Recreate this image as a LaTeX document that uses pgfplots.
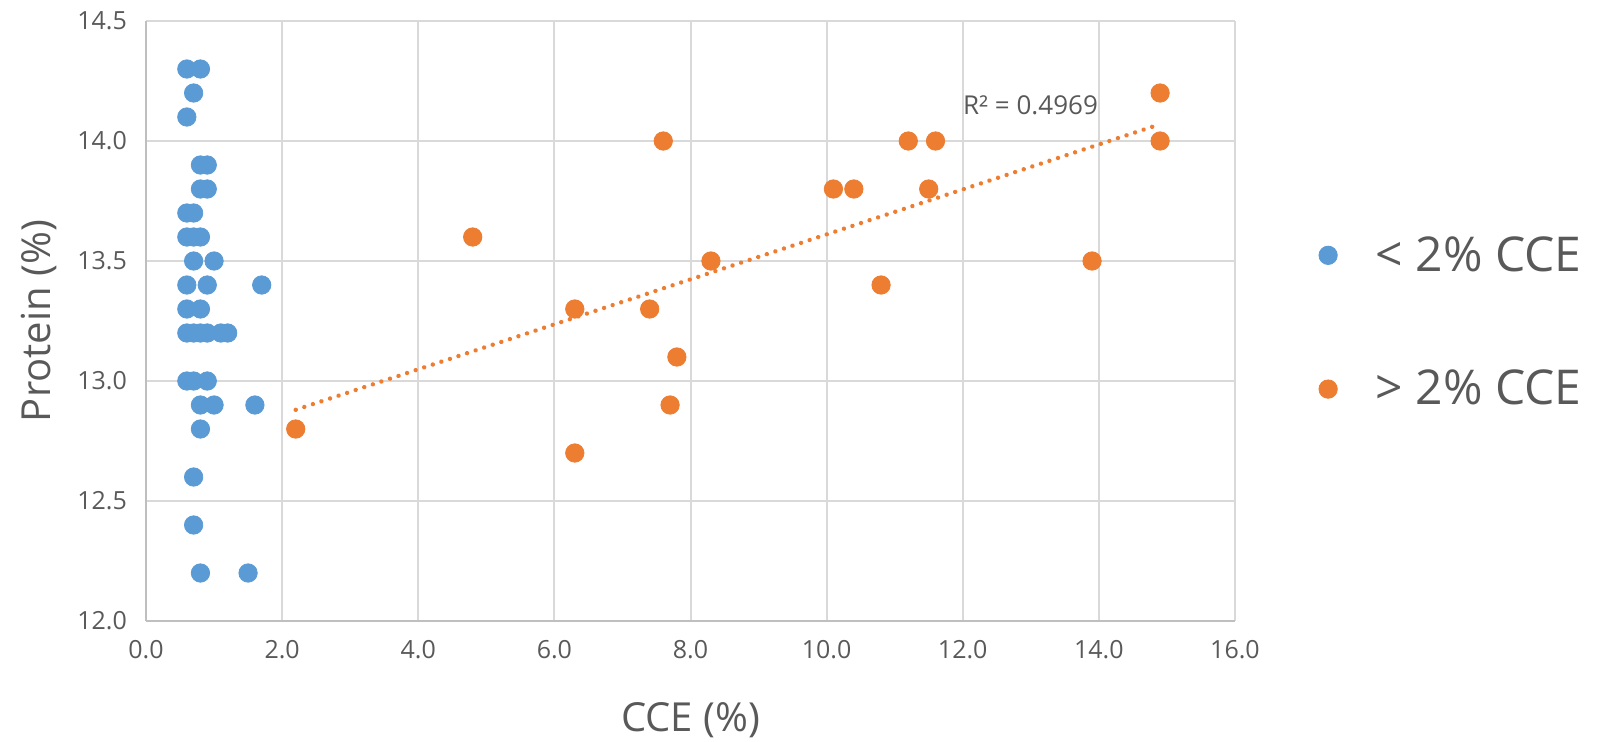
\documentclass[border=0pt]{standalone}
\usepackage{pgfplots}
\pgfplotsset{compat=1.18}
\usepackage{fontspec}
\setmainfont{Open Sans}
\definecolor{txt}{HTML}{595959}
\definecolor{gridc}{HTML}{D9D9D9}
\definecolor{axc}{HTML}{BFBFBF}
\definecolor{cblue}{HTML}{5B9BD5}
\definecolor{corange}{HTML}{ED7D31}
\pgfplotsset{mylegimg/.style={legend image code/.code={\path[draw=none,fill=none] (0,0) -- (1.22cm,0); \draw[##1, only marks] plot coordinates {(0.45cm,0cm)};}}}
\begin{document}
\begin{tikzpicture}
\path[use as bounding box] (-73pt,-60pt) rectangle (734pt,310.5pt);
\begin{axis}[
  scale only axis, width=544.5pt, height=300pt,
  xmin=0, xmax=16, ymin=12, ymax=14.5,
  xtick={0,2,...,16}, ytick={12,12.5,...,14.5},
  axis lines=left, axis line style={-, draw=axc, line width=1pt},
  grid=major, grid style={draw=gridc, line width=1pt},
  major tick length=0pt,
  tick label style={font=\fontsize{12.5}{14}\selectfont, text=txt},
  /pgf/number format/.cd, fixed, fixed zerofill, precision=1, assume math mode=true,
  /pgfplots/.cd,
  xticklabel style={yshift=-6pt},
  yticklabel style={xshift=-6pt},
  xlabel={CCE (\%)}, ylabel={Protein (\%)},
  label style={font=\fontsize{20}{24}\selectfont, text=txt},
  xlabel style={at={(axis description cs:0.5,-0.165)}, anchor=center},
  ylabel style={at={(axis description cs:-0.098,0.5)}, anchor=center, rotate=0},
  legend style={at={(1.062,0.498)}, anchor=west, draw=none, fill=none, inner sep=0pt, outer sep=0pt,
    font=\fontsize{24}{28}\selectfont, text=txt, row sep=44pt},
  legend cell align=left,
  clip=false,
]
\addplot[only marks, mark=*, mark size=4.6pt, draw=cblue, fill=cblue, mylegimg] coordinates {
(0.6,14.3)(0.8,14.3)(0.7,14.2)(0.6,14.1)
(0.8,13.9)(0.9,13.9)(0.8,13.8)(0.9,13.8)
(0.6,13.7)(0.7,13.7)(0.6,13.6)(0.7,13.6)(0.8,13.6)
(0.7,13.5)(1.0,13.5)(0.6,13.4)(0.9,13.4)(1.7,13.4)
(0.6,13.3)(0.8,13.3)
(0.6,13.2)(0.7,13.2)(0.8,13.2)(0.9,13.2)(1.1,13.2)(1.2,13.2)
(0.6,13.0)(0.7,13.0)(0.9,13.0)
(0.8,12.9)(1.0,12.9)(1.6,12.9)
(0.8,12.8)(0.7,12.6)(0.7,12.4)(0.8,12.2)(1.5,12.2)
};
\addlegendentry{< 2\% CCE}
\addplot[only marks, mark=*, mark size=4.6pt, draw=corange, fill=corange, mylegimg] coordinates {
(2.2,12.8)(4.8,13.6)(6.3,13.3)(6.3,12.7)(7.4,13.3)(7.6,14.0)(7.7,12.9)(7.8,13.1)
(8.3,13.5)(10.1,13.8)(10.4,13.8)(10.8,13.4)(11.2,14.0)(11.5,13.8)(11.6,14.0)
(13.9,13.5)(14.9,14.2)(14.9,14.0)
};
\addlegendentry{> 2\% CCE}
\addplot[corange, line width=2.2pt, line cap=round, dash pattern=on 0.01pt off 4.5pt, forget plot] coordinates {(2.2,12.88)(14.9,14.07)};
\node[anchor=west, font=\fontsize{13}{15}\selectfont, text=txt, inner sep=0pt] at (axis cs:12.0,14.15) {R² = 0.4969};
\end{axis}
\end{tikzpicture}
\end{document}
